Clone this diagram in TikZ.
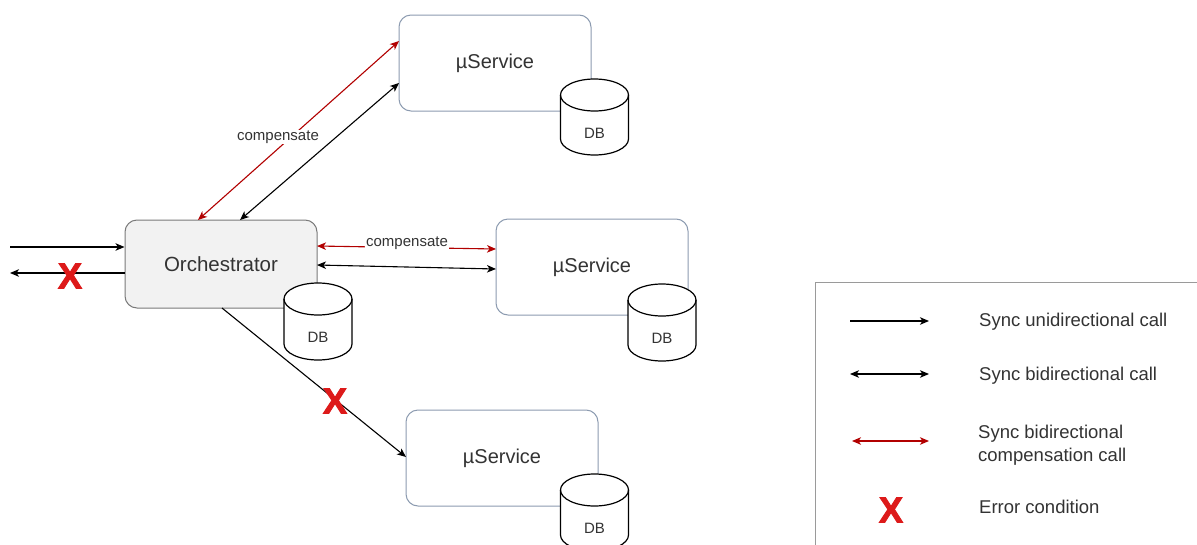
\documentclass[tikz,border=0pt]{standalone}
\usepackage{fontspec}
\setmainfont{Liberation Sans}
\newfontfamily\xmarkfont[FakeBold=2.5]{Liberation Sans Bold}
\usetikzlibrary{arrows.meta,calc}
\definecolor{txt}{HTML}{333333}
\definecolor{redline}{HTML}{B20000}
\definecolor{errred}{HTML}{DD1A1A}
\definecolor{svcborder}{HTML}{8C9BB0}
\definecolor{orchfill}{HTML}{F2F2F2}
\definecolor{orchborder}{HTML}{7A7A7A}
\definecolor{legborder}{HTML}{9A9A9A}
\newcommand\dbcylinder[4]{% name, cx, top, bottom
  \path[cylbody] (#2-34,#3+16) -- (#2-34,#4-16)
     arc[start angle=180,end angle=360,x radius=34pt,y radius=16pt]
     -- (#2+34,#3+16)
     arc[start angle=0,end angle=180,x radius=34pt,y radius=16pt] -- cycle;
  \draw[cylline] (#2-34,#3+16) arc[start angle=180,end angle=360,x radius=34pt,y radius=16pt];
  \node[dblabel] (#1) at (#2,{(#3+32+#4)/2}) {DB};
}
\begin{document}
\begin{tikzpicture}[x=1pt,y=-1pt,
  svc/.style={draw=svcborder,line width=1pt,rounded corners=12pt,fill=white,
     minimum width=192pt,minimum height=96pt,text=txt,font=\fontsize{20}{24}\selectfont},
  orch/.style={draw=orchborder,line width=1pt,rounded corners=12pt,fill=orchfill,
     minimum width=192pt,minimum height=88pt,text=txt,font=\fontsize{20.5}{24}\selectfont},
  cylbody/.style={draw=black,line width=1.2pt,fill=white},
  cylline/.style={draw=black,line width=1.2pt},
  dblabel/.style={text=txt,font=\fontsize{15}{18}\selectfont,inner sep=0pt},
  conn/.style={line width=1.1pt,black},
  redconn/.style={line width=1.1pt,redline},
  tip/.style={-{Stealth[length=9pt,width=7.5pt,inset=2.5pt]}},
  biti/.style={{Stealth[length=9pt,width=7.5pt,inset=2.5pt]}-{Stealth[length=9pt,width=7.5pt,inset=2.5pt]}},
  lbl/.style={fill=white,text=txt,font=\fontsize{15}{18}\selectfont,inner sep=1pt},
  errx/.style={text=errred,font=\xmarkfont\fontsize{36}{40}\selectfont,inner sep=0pt},
  legtext/.style={text=txt,font=\fontsize{18.5}{23}\selectfont,anchor=west,align=left,inner sep=0pt}
]
\useasboundingbox (0,0) rectangle (1197,544);
\fill[white] (0,0) rectangle (1197,544);

% main boxes
\node[orch] (orch) at (221,264) {Orchestrator};
\node[svc] (s1) at (495,63) {µService};
\node[svc] (s2) at (592,267) {µService};
\node[svc] (s3) at (502,458) {µService};

% databases
\dbcylinder{db0}{318}{283}{360}
\dbcylinder{db1}{594.5}{79}{155}
\dbcylinder{db2}{662}{284}{361}
\dbcylinder{db3}{594.5}{474}{551}

% connector end points
\coordinate (inS) at (10,247);
\coordinate (inE) at (orch.west |- 0,247);
\coordinate (outS) at (orch.west |- 0,273);
\coordinate (outE) at (10,273);
\coordinate (oTr) at (198,220);
\coordinate (oTb) at (240,220);
\coordinate (s1r) at (399,41);
\coordinate (s1b) at (399,83);
\coordinate (oMr) at (317,246);
\coordinate (oMb) at (317,265);
\coordinate (s2r) at (496,249);
\coordinate (s2b) at (496,269);
\coordinate (oB) at (222,308);
\coordinate (s3l) at (406,457);

% connectors
\draw[conn,tip] (inS) -- (inE);
\draw[conn,tip] (outS) -- (outE);
\draw[redconn,biti] (oTr) -- (s1r);
\draw[conn,biti] (oTb) -- (s1b);
\draw[redconn,biti] (oMr) -- (s2r);
\draw[conn,biti] (oMb) -- (s2b);
\draw[conn,tip] (oB) -- (s3l);

% labels
\node[lbl] (c1) at (278,137) {compensate};
\node[lbl] (c2) at (407,243) {compensate};

% error marks
\node[errx] (x1) at (70,276) {X};
\node[errx] (x2) at (335,401) {X};

% legend
\draw[legborder,line width=1pt] (815,282) rectangle (1215,570);
\coordinate (l1a) at (850,321); \coordinate (l1b) at (929,321);
\coordinate (l2a) at (850,374); \coordinate (l2b) at (929,374);
\coordinate (l3a) at (852,441); \coordinate (l3b) at (929,441);
\draw[conn,tip] (l1a) -- (l1b);
\draw[conn,biti] (l2a) -- (l2b);
\draw[redconn,biti] (l3a) -- (l3b);
\node[errx] (lx) at (891,510) {X};
\node[legtext] (t1) at (979,322) {Sync unidirectional call};
\node[legtext] (t2) at (979,376) {Sync bidirectional call};
\node[legtext] (t3) at (978,445) {Sync bidirectional\\compensation call};
\node[legtext] (t4) at (979,507) {Error condition};
\end{tikzpicture}
\end{document}
